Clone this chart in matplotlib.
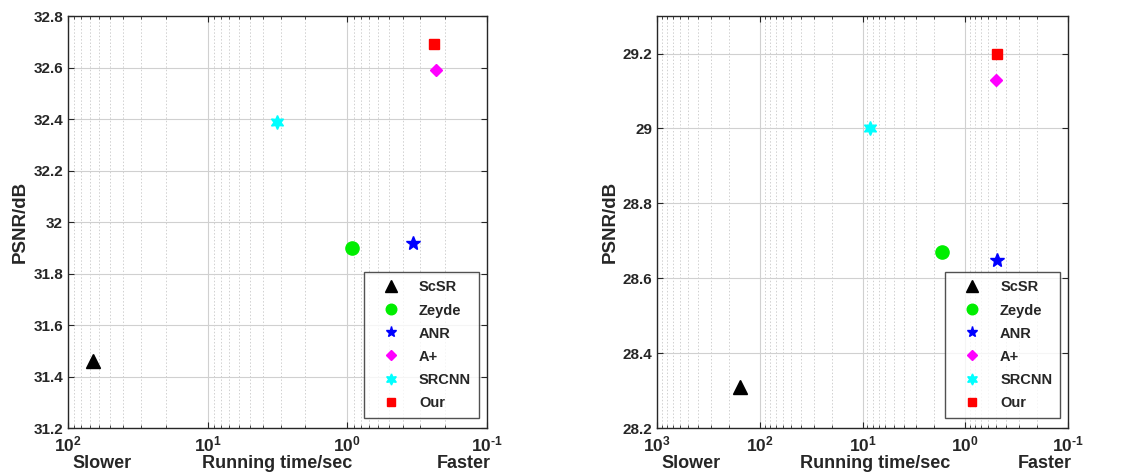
import numpy as np
import matplotlib
matplotlib.use("Agg")
import matplotlib.pyplot as plt
from matplotlib.ticker import FixedLocator, FuncFormatter, LogLocator, NullFormatter

plt.rcParams["font.family"] = ["Liberation Sans", "DejaVu Sans"]
plt.rcParams["font.weight"] = "bold"
plt.rcParams["mathtext.fontset"] = "custom"
plt.rcParams["mathtext.rm"] = "Liberation Sans"
plt.rcParams["mathtext.bf"] = "Liberation Sans:bold"
plt.rcParams["mathtext.default"] = "bf"

# Methods shown in both panels
methods = ["ScSR", "Zeyde", "ANR", "A+", "SRCNN", "Our"]

# Left panel: running time (sec) and PSNR (dB)
time_left = [66, 0.93, 0.34, 0.23, 3.16, 0.24]
psnr_left = [31.46, 31.90, 31.92, 32.59, 32.39, 32.69]

# Right panel
time_right = [155, 1.67, 0.49, 0.50, 8.5, 0.49]
psnr_right = [28.31, 28.67, 28.65, 29.13, 29.00, 29.20]

# Marker styles per method
markers = ["^", "o", "*", "D", (6, 1, 0), "s"]
colors = ["#000000", "#00ee00", "#0000ff", "#ff00ff", "#00ffff", "#ff0000"]
sizes = [10, 9.5, 10, 6.5, 10, 6.5]

fig = plt.figure(figsize=(11.31, 4.74), dpi=100)
ax1 = fig.add_axes([0.060, 0.097, 0.3706, 0.869])
ax2 = fig.add_axes([0.581, 0.097, 0.3634, 0.869])


def decade_label(v, p):
    e = int(round(np.log10(v)))
    if e < 0:
        return r"$10^{\text{-}%d}$" % (-e)
    return r"$10^{%d}$" % e


def style_axes(ax, times, psnrs, xlim, ylim, yticks, label_shift):

    for i, name in enumerate(methods):
        ax.plot(
            times[i],
            psnrs[i],
            linestyle="none",
            marker=markers[i],
            color=colors[i],
            markersize=sizes[i],
            label=name,
            zorder=3
        )

    ax.set_xscale("log")
    ax.set_xlim(xlim)
    ax.set_ylim(ylim)

    decades = [10.0 ** k for k in range(int(np.log10(xlim[1])), int(np.log10(xlim[0])) + 1)]
    ax.xaxis.set_major_locator(FixedLocator(decades))
    ax.xaxis.set_major_formatter(FuncFormatter(decade_label))
    ax.xaxis.set_minor_locator(LogLocator(base=10, subs=np.arange(2, 10)))
    ax.xaxis.set_minor_formatter(NullFormatter())

    ax.yaxis.set_major_locator(FixedLocator(yticks))
    ax.yaxis.set_major_formatter(FuncFormatter(lambda v, p: "%g" % round(v, 2)))

    ax.grid(True, which="major", color="#d0d0d0", linewidth=0.8, zorder=0)
    ax.grid(True, which="minor", axis="x", color="#d0d0d0",
            linestyle=(0, (1.5, 2)), linewidth=0.7, zorder=0)
    ax.set_axisbelow(True)

    ax.tick_params(which="both", direction="in", top=True, right=True,
                   colors="#262626", labelcolor="#262626")
    ax.tick_params(which="major", length=4, width=0.8, labelsize=11)
    ax.tick_params(axis="x", which="major", pad=5, labelsize=12.5)
    ax.tick_params(which="minor", length=2, width=0.6)

    for sp in ax.spines.values():
        sp.set_color("#262626")
        sp.set_linewidth(1.0)

    ax.set_ylabel("PSNR/dB", fontsize=13.5, fontweight="bold", color="#262626", labelpad=3)
    ax.text(0.5 + label_shift, -0.085, "Running time/sec", transform=ax.transAxes,
            ha="center", va="center", fontsize=13, fontweight="bold", color="#262626")
    ax.text(0.01, -0.085, "Slower", transform=ax.transAxes,
            ha="left", va="center", fontsize=13, fontweight="bold", color="#262626")
    ax.text(1.01, -0.085, "Faster", transform=ax.transAxes,
            ha="right", va="center", fontsize=13, fontweight="bold", color="#262626")

    leg = ax.legend(
        loc="lower right",
        bbox_to_anchor=(0.988, 0.018),
        fontsize=10.5,
        frameon=True,
        fancybox=False,
        edgecolor="#262626",
        borderpad=0.55,
        labelspacing=0.62,
        handlelength=2.6,
        handletextpad=0.6,
        borderaxespad=0.2,
        markerscale=0.8
    )
    leg.get_frame().set_linewidth(1.0)
    for t in leg.get_texts():
        t.set_fontweight("bold")
        t.set_color("#262626")


style_axes(ax1, time_left, psnr_left, (100, 0.1), (31.2, 32.8),
           np.round(np.arange(31.2, 32.81, 0.2), 1), 0.0)
style_axes(ax2, time_right, psnr_right, (1000, 0.1), (28.2, 29.3),
           np.round(np.arange(28.2, 29.21, 0.2), 1), 0.03)

fig.savefig("out.png", dpi=100)
